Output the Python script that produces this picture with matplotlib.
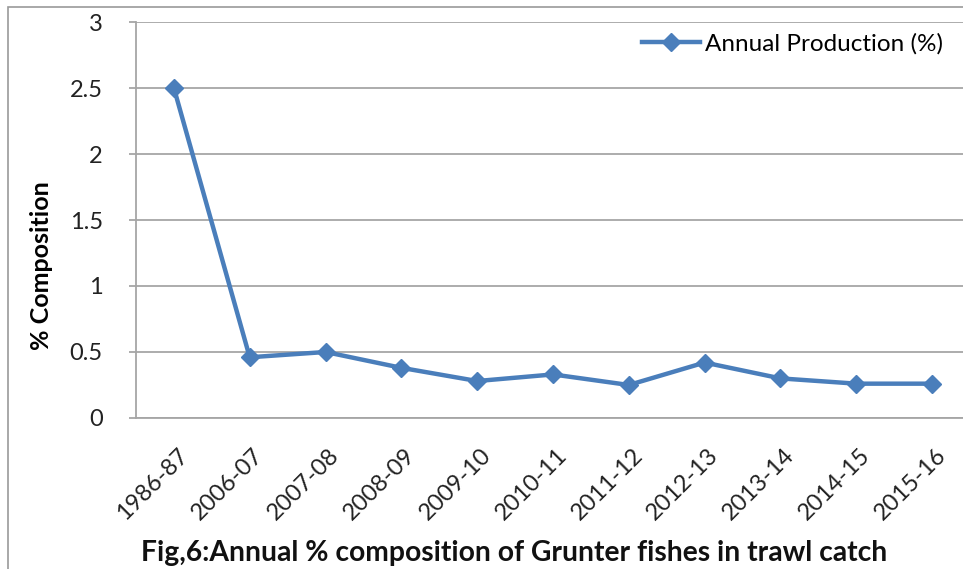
import matplotlib.pyplot as plt
import matplotlib.transforms as mtransforms
from matplotlib.patches import Rectangle

# annual % composition of grunter fishes in trawl catch
years = ['1986-87', '2006-07', '2007-08', '2008-09', '2009-10', '2010-11',
         '2011-12', '2012-13', '2013-14', '2014-15', '2015-16']
composition = [2.5, 0.46, 0.5, 0.38, 0.28, 0.33, 0.25, 0.42, 0.3, 0.26, 0.26]
yticks = [0, 0.5, 1, 1.5, 2, 2.5, 3]
ytick_labels = ['0', '0.5', '1', '1.5', '2', '2.5', '3']

plt.rcParams['font.family'] = ['Lato', 'DejaVu Sans']

fig = plt.figure(figsize=(9.63, 5.69), dpi=100)
ax = fig.add_axes([0.1412, 0.2654, 0.8661, 0.6959])

blue = '#4A7EBB'
grid = '#A6A6A6'

x = list(range(len(years)))
ax.plot(x, composition, color=blue, linewidth=3.2, marker='D',
        markersize=9, markerfacecolor=blue, markeredgecolor=blue,
        label='Annual Production (%)', zorder=3)

ax.set_xlim(-0.5, len(years) - 0.5)
ax.set_ylim(0, 3)
ax.set_yticks(yticks)
ax.set_yticklabels(ytick_labels)
ax.set_xticks(x)
ax.set_xticklabels(years, rotation=45, ha='right', rotation_mode='anchor')

ax.yaxis.grid(True, color=grid, linewidth=1.3)
ax.set_axisbelow(True)
for side in ['top', 'right']:
    ax.spines[side].set_visible(False)
for side in ['left', 'bottom']:
    ax.spines[side].set_color(grid)
    ax.spines[side].set_linewidth(1.3)

ax.tick_params(axis='y', length=5, width=1.3, color=grid, pad=19,
               labelsize=17, labelcolor='#222222')
ax.tick_params(axis='x', length=0, pad=19, labelsize=17, labelcolor='#222222')

# nudge the rotated year labels a little to the right
shift = mtransforms.ScaledTranslation(3 / 100, 0, fig.dpi_scale_trans)
for lbl in ax.get_xticklabels():
    lbl.set_transform(lbl.get_transform() + shift)

ax.set_ylabel('% Composition', fontsize=18, fontweight='bold')
ax.yaxis.set_label_coords(-0.0995, 0.386)
fig.text(0.534, 0.028, 'Fig,6:Annual % composition of Grunter fishes in trawl catch',
         ha='center', va='center', fontsize=20.3, fontweight='bold', color='#111111')

ax.legend(loc='upper right', bbox_to_anchor=(0.985, 1.008), frameon=False,
          fontsize=17.5, handlelength=2.4, handletextpad=0.2, borderaxespad=0.2)

# outer chart border
fig.patches.append(Rectangle((8 / 963, -0.1), 1.1, 1.1 - 7 / 569,
                             transform=fig.transFigure, fill=False,
                             edgecolor='#9A9A9A', linewidth=1.2))

fig.savefig('out.png', dpi=100)
